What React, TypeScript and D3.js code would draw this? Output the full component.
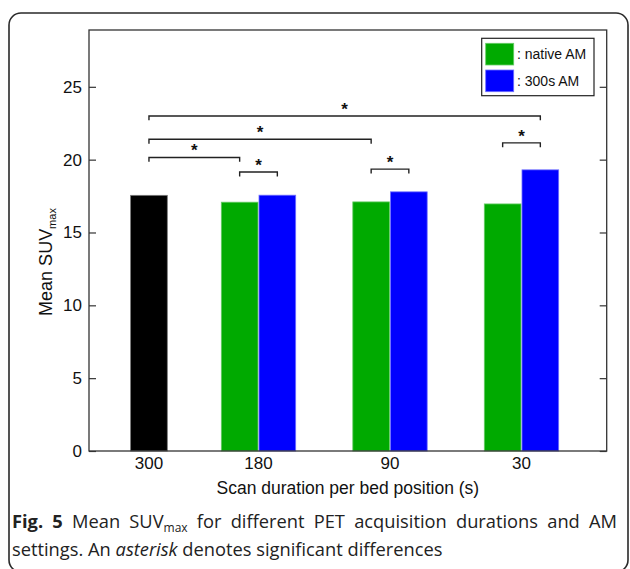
import React, { useEffect, useRef } from 'react';
import * as d3 from 'd3';

// Scan duration per bed position (s)
const durations = ['300', '180', '90', '30'];
// Mean SUVmax of the 300 s reference scan
const reference300 = 17.55;
// Mean SUVmax for shortened scans
const nativeAM = [null, 17.08, 17.1, 16.96];
const am300s = [null, 17.56, 17.79, 19.3];
const yTicks = [0, 5, 10, 15, 20, 25];
const legendLabels = [': native AM', ': 300s AM'];
// significance brackets: from bar, to bar, height (SUV units)
const brackets: [string, string, number][] = [
	['ref-300', 'am-30', 23.0],
	['ref-300', 'native-90', 21.4],
	['ref-300', 'native-180', 20.15],
	['native-180', 'am-180', 19.15],
	['native-90', 'am-90', 19.35],
	['native-30', 'am-30', 21.15],
];

const W = 630;
const H = 569;
const FONT = '"Liberation Sans", Arial, Helvetica, sans-serif';
const CAPTION_FONT = '"Open Sans", "Noto Sans", sans-serif';

export default function App() {
	const svgRef = useRef<SVGSVGElement | null>(null);

	useEffect(() => {
		const svgEl = svgRef.current;
		if (!svgEl) return;
		const svg = d3.select(svgEl);
		svg.selectAll('*').remove();

		const plot = { left: 89, right: 606.7, top: 30, bottom: 451 };

		// x: category slot -> unit position -> pixels
		const xu = d3.scaleLinear().domain([0.711, 4.648]).range([plot.left, plot.right]);
		const slot = d3.scaleOrdinal<string, number>().domain(durations).range([1.167, 2, 3, 4]);
		const barW = xu(0.279) - xu(0);
		const y = d3.scaleLinear().domain([0, 28.9]).range([plot.bottom, plot.top]);

		// outer frame
		svg.append('rect')
			.attr('x', 9)
			.attr('y', 13)
			.attr('width', 619)
			.attr('height', 559)
			.attr('rx', 12)
			.attr('fill', 'none')
			.attr('stroke', '#2a2a2a')
			.attr('stroke-width', 1.6);

		// bars
		type Bar = { id: string; x: number; value: number; fill: string; edge: string };
		const bars: Bar[] = [];
		durations.forEach((d, i) => {
			const cx = xu(slot(d));
			if (i === 0) {
				bars.push({ id: 'ref-' + d, x: cx, value: reference300, fill: '#000000', edge: '#777777' });
				return;
			}
			const off = barW / 2 + 0.5;
			bars.push({ id: 'native-' + d, x: cx - off, value: nativeAM[i] as number, fill: '#00aa00', edge: '#66cc66' });
			bars.push({ id: 'am-' + d, x: cx + off, value: am300s[i] as number, fill: '#0000ff', edge: '#6f6fff' });
		});

		svg.append('g')
			.selectAll('rect')
			.data(bars)
			.join('rect')
			.attr('x', (b) => b.x - barW / 2)
			.attr('width', barW)
			.attr('y', (b) => y(b.value))
			.attr('height', (b) => y(0) - y(b.value))
			.attr('fill', (b) => b.fill)
			.attr('stroke', (b) => b.edge)
			.attr('stroke-width', 0.8);

		// axes box
		const axisColor = '#333333';
		svg.append('rect')
			.attr('x', plot.left)
			.attr('y', plot.top)
			.attr('width', plot.right - plot.left)
			.attr('height', plot.bottom - plot.top)
			.attr('fill', 'none')
			.attr('stroke', axisColor)
			.attr('stroke-width', 1.3);

		// y ticks, inward on both sides
		const left = svg.append('g').attr('transform', `translate(${plot.left},0)`)
			.call(d3.axisLeft(y).tickValues(yTicks).tickSizeInner(-7).tickSizeOuter(0).tickPadding(7));
		left.select('.domain').remove();
		left.selectAll('.tick line').attr('stroke', axisColor).attr('stroke-width', 1.2);
		left.selectAll('.tick text')
			.attr('fill', '#111')
			.style('font-family', FONT)
			.style('font-size', '17px');

		const right = svg.append('g').attr('transform', `translate(${plot.right},0)`)
			.call(d3.axisRight(y).tickValues(yTicks).tickSizeInner(-7).tickSizeOuter(0).tickFormat(() => ''));
		right.select('.domain').remove();
		right.selectAll('.tick line').attr('stroke', axisColor).attr('stroke-width', 1.2);

		// x labels
		svg.append('g')
			.selectAll('text')
			.data(durations)
			.join('text')
			.attr('x', (d) => xu(slot(d)))
			.attr('y', 469)
			.attr('text-anchor', 'middle')
			.style('font-family', FONT)
			.style('font-size', '17px')
			.attr('fill', '#111')
			.text((d) => d);

		svg.append('text')
			.attr('x', (plot.left + plot.right) / 2)
			.attr('y', 494)
			.attr('text-anchor', 'middle')
			.style('font-family', FONT)
			.style('font-size', '17.5px')
			.attr('fill', '#111')
			.text('Scan duration per bed position (s)');

		// y label
		const yl = svg.append('text')
			.attr('transform', `translate(52,262) rotate(-90)`)
			.attr('text-anchor', 'middle')
			.style('font-family', FONT)
			.style('font-size', '18px')
			.attr('fill', '#111');
		yl.append('tspan').text('Mean SUV');
		yl.append('tspan').attr('dy', 4).style('font-size', '11px').text('max');

		// significance brackets
		const barX = new Map(bars.map((b) => [b.id, b.x]));
		const drop = y(0) - y(0.3);
		const bg = svg.append('g');
		brackets.forEach(([a, b, h]) => {
			const x1 = barX.get(a) as number;
			const x2 = barX.get(b) as number;
			const yy = y(h);
			bg.append('path')
				.attr('d', `M${x1},${yy + drop}V${yy}H${x2}V${yy + drop}`)
				.attr('fill', 'none')
				.attr('stroke', '#222')
				.attr('stroke-width', 1.4);
			bg.append('text')
				.attr('x', (x1 + x2) / 2)
				.attr('y', yy - 1)
				.attr('text-anchor', 'middle')
				.style('font-family', FONT)
				.style('font-size', '17px')
				.style('font-weight', 'bold')
				.attr('fill', '#111')
				.text('*');
		});

		// legend
		const lg = svg.append('g');
		lg.append('rect')
			.attr('x', 481.7)
			.attr('y', 38.3)
			.attr('width', 112.3)
			.attr('height', 57.4)
			.attr('fill', '#fff')
			.attr('stroke', '#222')
			.attr('stroke-width', 1.2);
		const legendColors = [
			['#00aa00', '#66cc66'],
			['#0000ff', '#6f6fff'],
		];
		legendLabels.forEach((label, i) => {
			const top = 43.3 + i * 26.7;
			lg.append('rect')
				.attr('x', 485.7)
				.attr('y', top)
				.attr('width', 28)
				.attr('height', 21.7)
				.attr('fill', legendColors[i][0])
				.attr('stroke', legendColors[i][1])
				.attr('stroke-width', 0.8);
			lg.append('text')
				.attr('x', 517)
				.attr('y', top + 16)
				.style('font-family', FONT)
				.style('font-size', '14px')
				.attr('fill', '#111')
				.text(label);
		});

		// caption (first line justified to the frame width)
		const c1 = svg.append('text')
			.attr('x', 12)
			.attr('y', 528)
			.style('font-family', CAPTION_FONT)
			.style('font-size', '18.3px')
			.attr('fill', '#222');
		c1.append('tspan').style('font-weight', 'bold').text('Fig. 5');
		c1.append('tspan').text(' Mean SUV');
		c1.append('tspan').attr('dy', 4).style('font-size', '12px').text('max');
		c1.append('tspan').attr('dy', -4).text(' for different PET acquisition durations and AM');
		const c1Node = c1.node() as SVGTextElement;
		const natural = c1Node.getComputedTextLength();
		const gaps = 10;
		const extra = (617 - 12 - natural) / gaps;
		if (extra > 0) c1.style('word-spacing', `${extra}px`);

		const c2 = svg.append('text')
			.attr('x', 12)
			.attr('y', 556)
			.style('font-family', CAPTION_FONT)
			.style('font-size', '18.3px')
			.attr('fill', '#222');
		c2.append('tspan').text('settings. An ');
		c2.append('tspan').style('font-style', 'italic').text('asterisk');
		c2.append('tspan').text(' denotes significant differences');
	}, []);

	return (
		<svg
			ref={svgRef}
			width={W}
			height={H}
			style={{ position: 'absolute', left: 0, top: 0, background: '#fff' }}
		/>
	);
}
